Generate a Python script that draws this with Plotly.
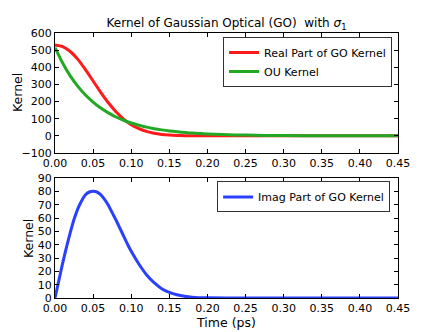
import plotly.graph_objects as go

# ── Data ──────────────────────────────────────────────────────────────
t_real = [0.00, 0.01, 0.02, 0.03, 0.04, 0.05, 0.06, 0.07, 0.08, 0.09,
          0.10, 0.11, 0.12, 0.13, 0.14, 0.15, 0.16, 0.17, 0.18, 0.20,
          0.25, 0.30, 0.35, 0.40, 0.45]
real_go = [530, 521, 492, 446, 386, 320, 254, 193, 141, 98,
           65, 42, 26, 15, 8.5, 4.6, 2.4, 1.2, 0.6, 0.1,
           0, 0, 0, 0, 0]

t_ou = [0.00, 0.01, 0.02, 0.03, 0.04, 0.05, 0.06, 0.07, 0.08, 0.09,
        0.10, 0.11, 0.12, 0.13, 0.14, 0.15, 0.16, 0.18, 0.20, 0.22,
        0.25, 0.30, 0.35, 0.40, 0.45]
ou_kernel = [515, 425, 350, 289, 238, 197, 162, 134, 110, 91,
             75, 62, 51, 42, 35, 29, 24, 16, 11, 7.5,
             4.3, 1.6, 0.6, 0.2, 0.1]

t_imag = [0.000, 0.005, 0.010, 0.015, 0.020, 0.025, 0.030, 0.035, 0.040, 0.045,
          0.050, 0.055, 0.060, 0.065, 0.070, 0.075, 0.080, 0.085, 0.090, 0.095,
          0.100, 0.110, 0.120, 0.130, 0.140, 0.150, 0.160, 0.170, 0.180, 0.200,
          0.250, 0.300, 0.350, 0.400, 0.450]
imag_go = [0, 13, 26, 38, 49, 59, 67, 73, 77.5, 79.5,
           80, 79.5, 77.5, 74, 69.5, 64, 58.5, 52.5, 46.5, 40.5,
           35, 25.5, 17.5, 11.5, 7, 4.2, 2.4, 1.3, 0.6, 0.1,
           0, 0, 0, 0, 0]

x_ticks = [0.00, 0.05, 0.10, 0.15, 0.20, 0.25, 0.30, 0.35, 0.40, 0.45]
top_y_ticks = [-100, 0, 100, 200, 300, 400, 500, 600]
bottom_y_ticks = [0, 10, 20, 30, 40, 50, 60, 70, 80, 90]

FONT = "DejaVu Sans, Bitstream Vera Sans, sans-serif"

# the page body adds an 8px margin, so the figure is 8px smaller each way
W, H = 435, 324
PLOT_W = 343

fig = go.Figure()

fig.add_trace(go.Scatter(
    x=t_real, y=real_go, mode="lines", name="Real Part of GO Kernel",
    line=dict(color="#ff1a1a", width=3, shape="spline", smoothing=0.6),
    xaxis="x", yaxis="y", legend="legend",
))
fig.add_trace(go.Scatter(
    x=t_ou, y=ou_kernel, mode="lines", name="OU Kernel",
    line=dict(color="#22a822", width=3, shape="spline", smoothing=0.6),
    xaxis="x", yaxis="y", legend="legend",
))
fig.add_trace(go.Scatter(
    x=t_imag, y=imag_go, mode="lines", name="Imag Part of GO Kernel",
    line=dict(color="#2a40ff", width=3, shape="spline", smoothing=0.6),
    xaxis="x2", yaxis="y2", legend="legend2",
))

axis_style = dict(
    showline=True, linecolor="black", linewidth=1, mirror="ticks",
    ticks="inside", ticklen=4, tickcolor="black", showgrid=False,
    zeroline=False, automargin=False,
    tickfont=dict(size=11, color="black"),
)

legend_style = dict(
    bgcolor="white", bordercolor="#333", borderwidth=1,
    font=dict(size=11, color="black"), xanchor="right", yanchor="top",
)

# y-axis labels placed like matplotlib's (each relative to its own tick labels)
for yref, px_x in (("y domain", 9), ("y2 domain", 20)):
    fig.add_annotation(
        text="Kernel", textangle=-90, showarrow=False,
        xref="paper", x=(px_x - 47) / PLOT_W, xanchor="center",
        yref=yref, y=0.5, yanchor="middle",
        font=dict(size=12.5, color="black"),
    )

fig.update_layout(
    width=W, height=H,
    margin=dict(l=47, r=45, t=25, b=34),
    paper_bgcolor="white", plot_bgcolor="white",
    font=dict(family=FONT, color="black"),
    title=dict(
        text="Kernel of Gaussian Optical (GO)  with <i>σ</i><sub>1</sub>",
        x=0.5, xref="paper", xanchor="center",
        y=1 - 15 / H, yanchor="middle", font=dict(size=12),
    ),
    xaxis=dict(axis_style, domain=[0, 1], range=[0, 0.45], anchor="y",
               tickvals=x_ticks, tickformat=".2f"),
    yaxis=dict(axis_style, domain=[145 / 265, 1], range=[-100, 600], anchor="x",
               tickvals=top_y_ticks),
    xaxis2=dict(axis_style, domain=[0, 1], range=[0, 0.45], anchor="y2",
                tickvals=x_ticks, tickformat=".2f",
                title=dict(text="Time (ps)", font=dict(size=12.5), standoff=2)),
    yaxis2=dict(axis_style, domain=[0, 120 / 265], range=[0, 90], anchor="x2",
                tickvals=bottom_y_ticks),
    legend=dict(legend_style, x=0.9825, y=0.985),
    legend2=dict(legend_style, x=0.977, y=0.44),
    showlegend=True,
)

fig.write_html("out.html")
